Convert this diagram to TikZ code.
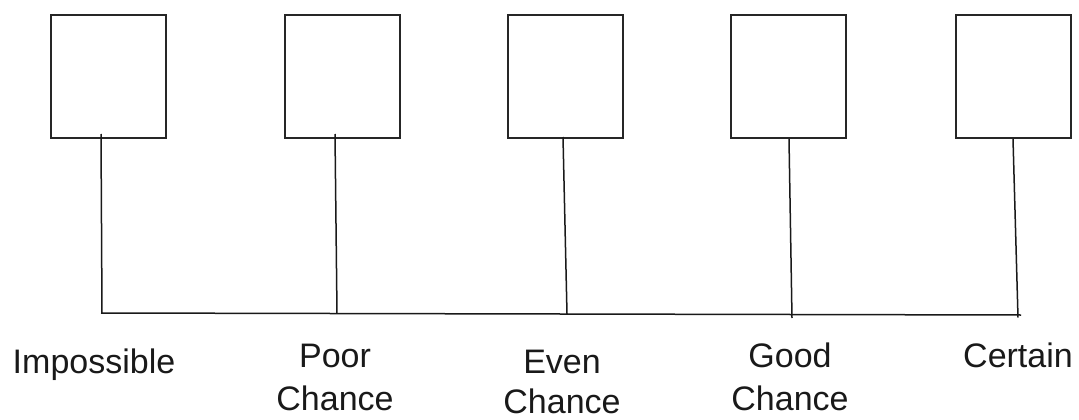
\documentclass[tikz,border=0pt]{standalone}
\usepackage{fontspec}
\setmainfont{Liberation Sans}
\begin{document}
\begin{tikzpicture}[x=1pt,y=-1pt,
  box/.style={draw=black!85, line width=2pt, minimum width=115pt, minimum height=122.5pt, inner sep=0pt},
  link/.style={draw=black!90, line width=1.5pt},
  lab/.style={anchor=base, inner sep=0pt, text=black!90, font=\fontsize{34}{42}\selectfont}]
\useasboundingbox (0,0) rectangle (1079,420);
% boxes
\node[box] (b1) at (108,76.75) {};
\node[box] (b2) at (342,76.75) {};
\node[box] (b3) at (565,76.75) {};
\node[box] (b4) at (788,76.75) {};
\node[box] (b5) at (1013,76.75) {};
% points on the scale line
\coordinate (t1) at (102,313);
\coordinate (t2) at (337,313.5);
\coordinate (t3) at (567,314);
\coordinate (t4) at (792,318);
\coordinate (t5) at (1018,317.5);
\coordinate (h1) at (101,313);
\coordinate (h5) at (1021,315);
% connectors
\draw[link] ([xshift=-7pt,yshift=5pt]b1.south) -- (t1);
\draw[link] ([xshift=-7pt,yshift=5pt]b2.south) -- (t2);
\draw[link] ([xshift=-2pt,yshift=2pt]b3.south) -- (t3);
\draw[link] ([xshift=1pt]b4.south) -- (t4);
\draw[link] (b5.south) -- (t5);
\draw[link] (h1) -- (h5);
% labels
\node[lab] (l1) at (94,373) {Impossible};
\node[lab] (l2a) at (335,367) {Poor};
\node[lab] (l2b) at (335,410) {Chance};
\node[lab] (l3a) at (562,373) {Even};
\node[lab] (l3b) at (562,413) {Chance};
\node[lab] (l4a) at (790,367) {Good};
\node[lab] (l4b) at (790,410) {Chance};
\node[lab] (l5) at (1018,367) {Certain};
\end{tikzpicture}
\end{document}
